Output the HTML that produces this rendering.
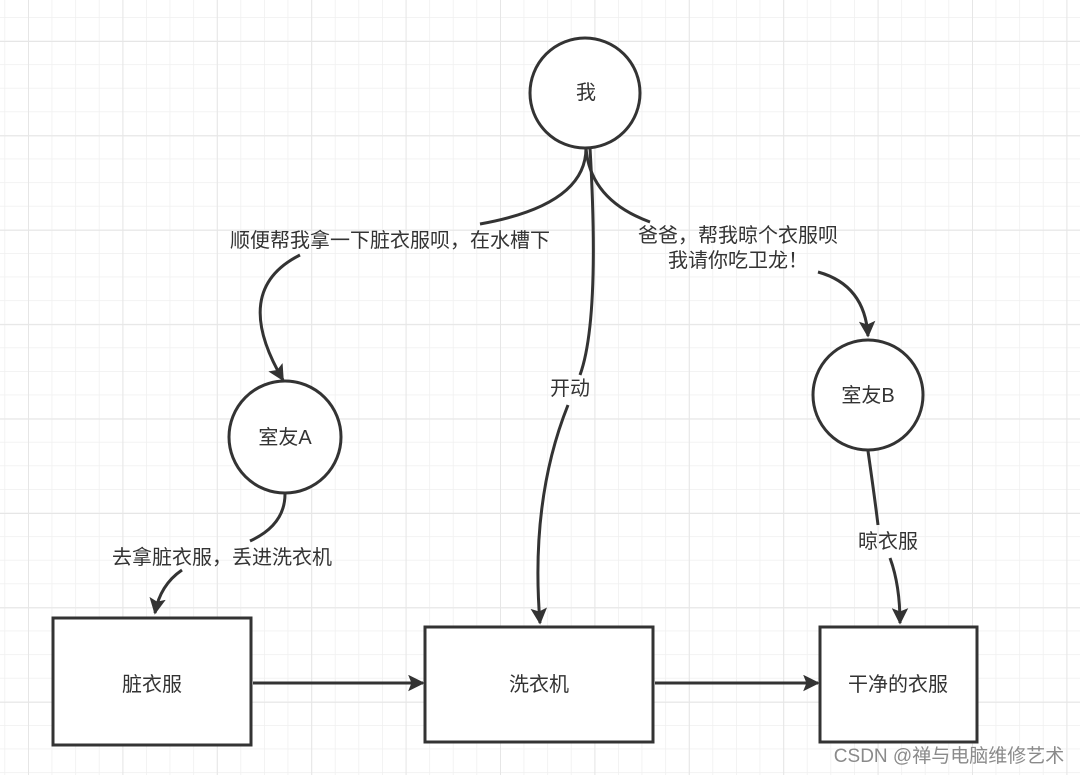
<!DOCTYPE html>
<html><head><meta charset="utf-8"><style>
html,body{margin:0;padding:0;background:#fff}
svg{display:block}
text{font-family:"Liberation Sans","Noto Sans CJK SC",sans-serif;fill:#333}
</style></head><body>
<svg width="1080" height="775" viewBox="0 0 1080 775" xmlns="http://www.w3.org/2000/svg">
<defs>
<pattern id="g" x="4.4" y="17" width="23.6" height="23.6" patternUnits="userSpaceOnUse">
<path d="M0 0H23.6M0 0V23.6" stroke="#efefef" stroke-width="1.5" fill="none"/>
</pattern>
<pattern id="G" x="28" y="41" width="94.4" height="94.4" patternUnits="userSpaceOnUse">
<path d="M0 0H94.4M0 0V94.4" stroke="#e6e6e6" stroke-width="2" fill="none"/>
</pattern>
<marker id="a" viewBox="0 0 10 10" refX="9" refY="5" markerWidth="5.5" markerHeight="5.5" orient="auto">
<path d="M0 0L10 5L0 10L2 5z" fill="#333"/>
</marker>
</defs>
<rect width="1080" height="775" fill="#fff"/>
<rect width="1080" height="775" fill="url(#g)"/>
<rect width="1080" height="775" fill="url(#G)"/>
<g fill="none" stroke="#333" stroke-width="3">
<path d="M586 148 Q586 205 480 224"/>
<path d="M300 255 Q230 290 283 380" marker-end="url(#a)"/>
<path d="M586 148 Q590 200 650 222"/>
<path d="M818 272 Q865 285 868 336" marker-end="url(#a)"/>
<path d="M590 148 Q600 320 580 375"/>
<path d="M568 405 Q530 500 540 623" marker-end="url(#a)"/>
<path d="M285 494 Q285 525 250 541"/>
<path d="M182 570 Q160 585 155 613" marker-end="url(#a)"/>
<path d="M868 451 Q875 500 878 525"/>
<path d="M890 558 Q900 585 900 623" marker-end="url(#a)"/>
<path d="M253 683H423" marker-end="url(#a)"/>
<path d="M655 683H818" marker-end="url(#a)"/>
</g>
<g fill="#fff" stroke="#333" stroke-width="3">
<circle cx="585" cy="93" r="55"/>
<circle cx="285" cy="437" r="56"/>
<circle cx="868" cy="395" r="55"/>
<rect x="53" y="618" width="198" height="127"/>
<rect x="425" y="627" width="228" height="115"/>
<rect x="820" y="627" width="157" height="115"/>
</g>
<g font-size="20" text-anchor="middle">
<text x="586" y="99">我</text>
<text x="285" y="444">室友A</text>
<text x="868" y="402">室友B</text>
<text x="152" y="691">脏衣服</text>
<text x="539" y="691">洗衣机</text>
<text x="898" y="691">干净的衣服</text>
<text x="390" y="247">顺便帮我拿一下脏衣服呗，在水槽下</text>
<text x="738" y="242">爸爸，帮我晾个衣服呗</text>
<text x="738" y="267">我请你吃卫龙！</text>
<text x="570" y="395">开动</text>
<text x="222" y="564">去拿脏衣服，丢进洗衣机</text>
<text x="888" y="548">晾衣服</text>
</g>
<text x="949" y="762" font-size="19" text-anchor="middle" style="fill:#8a8a8a">CSDN @禅与电脑维修艺术</text>
</svg>
</body></html>
